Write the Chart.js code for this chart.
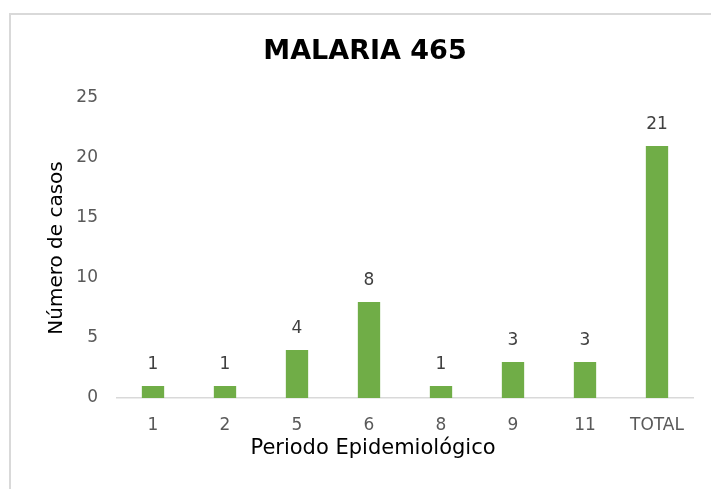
<!DOCTYPE html>
<html>
<head>
<meta charset="utf-8">
<script src="https://cdn.jsdelivr.net/npm/chart.js@4.4.1/dist/chart.umd.min.js"></script>
<style>
  html, body { margin: 0; padding: 0; background: #fff; overflow: hidden; }
  #frame {
    position: absolute; left: 9px; top: 13px;
    width: 800px; height: 600px;
    border: 2px solid #d9d9d9;
  }
  #wrap { position: absolute; left: 0; top: 0; width: 711px; height: 489px; }
</style>
</head>
<body>
<div id="frame"></div>
<div id="wrap"><canvas id="chart"></canvas></div>
<script>
const periods = ["1", "2", "5", "6", "8", "9", "11", "TOTAL"];
const cases = [1, 1, 4, 8, 1, 3, 3, 21];
const yTicks = [0, 5, 10, 15, 20, 25];
const xTitle = 'Periodo Epidemiológico';

const FONT = "'DejaVu Sans', sans-serif";

// value labels above each bar + x axis title (sits left of centre in the original)
const barLabels = {
  id: 'barLabels',
  afterDraw(chart) {
    const ctx = chart.ctx;
    const meta = chart.getDatasetMeta(0);
    const xs = chart.scales.x;
    ctx.save();
    ctx.font = "17px " + FONT;
    ctx.fillStyle = '#404040';
    ctx.textAlign = 'center';
    ctx.textBaseline = 'middle';
    meta.data.forEach((bar, i) => {
      ctx.fillText(cases[i], bar.x, bar.y - 21);
    });
    ctx.font = "21px " + FONT;
    ctx.fillStyle = '#000';
    ctx.fillText(xTitle, (xs.left + xs.right) / 2 - 32, xs.top + 51);
    ctx.restore();
  }
};

new Chart(document.getElementById('chart'), {
  type: 'bar',
  data: {
    labels: periods,
    datasets: [{
      data: cases,
      backgroundColor: '#70ad47',
      barPercentage: 0.31,
      categoryPercentage: 1
    }]
  },
  options: {
    responsive: true,
    maintainAspectRatio: false,
    animation: false,
    devicePixelRatio: 1,
    layout: {
      padding: { left: 37, right: 18, top: 0, bottom: 27.6 }
    },
    plugins: {
      legend: { display: false },
      tooltip: { enabled: false },
      title: {
        display: true,
        text: 'MALARIA 465',
        color: '#000',
        font: { family: FONT, size: 27, weight: 'bold' },
        padding: { top: 36, bottom: 29.6 }
      }
    },
    scales: {
      x: {
        afterFit(scale) {
          scale.height = 63.4;
        },
        grid: { display: false, drawTicks: false },
        border: { display: true, color: '#d9d9d9', width: 1.5 },
        ticks: {
          color: '#595959',
          font: { family: FONT, size: 17 },
          padding: 17.5,
          maxRotation: 0
        },
        title: { display: false }
      },
      y: {
        min: 0,
        max: 25,
        afterBuildTicks(scale) {
          scale.ticks = yTicks.map(v => ({ value: v }));
        },
        afterFit(scale) {
          scale.width = 80;
        },
        grid: { display: false, drawTicks: false },
        border: { display: false },
        ticks: {
          color: '#595959',
          font: { family: FONT, size: 17 },
          padding: 19
        },
        title: {
          display: true,
          text: 'Número de casos',
          color: '#000',
          font: { family: FONT, size: 20 },
          padding: { top: 8, bottom: 0 }
        }
      }
    }
  },
  plugins: [barLabels]
});
</script>
</body>
</html>
